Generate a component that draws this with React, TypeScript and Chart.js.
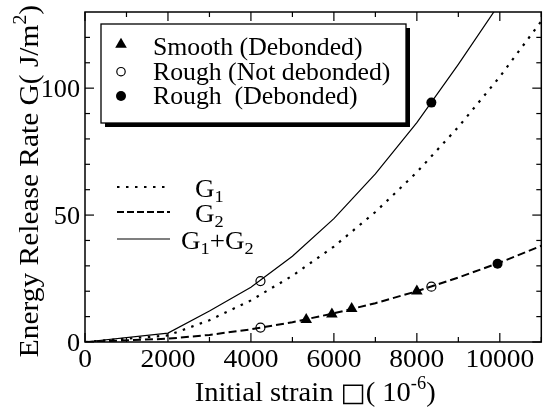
import React, { useEffect, useRef } from "react";
import { Chart, registerables } from "chart.js";

Chart.register(...registerables);

// Initial strain (×10⁻⁶) at which the energy release rates are evaluated
const strain = [0, 2000, 3000, 4000, 5000, 6000, 7000, 8000, 9000, 10000, 11000];
// Mode I component G1 (J/m²)
const g1 = [0, 2.6, 8.6, 16.4, 26.1, 37.6, 51.2, 66.9, 84.7, 104.5, 126.4];
// Mode II component G2 (J/m²)
const g2 = [0, 1.3, 2.8, 5.0, 7.8, 11.3, 15.3, 20.0, 25.4, 31.3, 37.9];
// Total G1+G2 (J/m²)
const gTotal = [0, 3.5, 12.2, 21.6, 33.8, 48.6, 66.2, 86.4, 109.4, 133.5, 161.0];

// Experimental points
const smoothStrain = [5333, 5952, 6429, 8000];
const smoothG = [8.8, 11.0, 13.1, 20.0];
const roughOpenStrain = [4230, 4230, 8350];
const roughOpenG = [24.0, 5.7, 21.8];
const roughFilledStrain = [8350, 9945];
const roughFilledG = [94.3, 30.8];

// Axis ticks
const xMajorTicks = [0, 2000, 4000, 6000, 8000, 10000];
const xMinorTicks = [1000, 3000, 5000, 7000, 9000, 11000];
const yMajorTicks = [0, 50, 100];
const yMinorTicks = [10, 20, 30, 40, 60, 70, 80, 90, 110, 120];

const X_MIN = 0;
const X_MAX = 11000;
const Y_MIN = 0;
const Y_MAX = 130;

const FONT = '"Liberation Serif", "Times New Roman", serif';

type Run = { t: string; size: number; dy?: number; family?: string };

function runWidth(ctx: CanvasRenderingContext2D, runs: Run[], sx: number) {
  let w = 0;
  for (const r of runs) {
    ctx.font = `${r.size}px ${r.family || FONT}`;
    w += ctx.measureText(r.t).width * sx;
  }
  return w;
}

// Draws a sequence of text runs (allowing sub/superscripts) starting at x, baseline y
function drawRuns(
  ctx: CanvasRenderingContext2D,
  runs: Run[],
  x: number,
  y: number,
  align: "left" | "center" | "right",
  sx = 1
) {
  const total = runWidth(ctx, runs, sx);
  let cx = align === "left" ? x : align === "center" ? x - total / 2 : x - total;
  ctx.save();
  ctx.fillStyle = "#000";
  ctx.textAlign = "left";
  ctx.textBaseline = "alphabetic";
  for (const r of runs) {
    ctx.font = `${r.size}px ${r.family || FONT}`;
    const w = ctx.measureText(r.t).width * sx;
    ctx.save();
    ctx.translate(cx, y + (r.dy || 0));
    ctx.scale(sx, 1);
    ctx.fillText(r.t, 0, 0);
    ctx.restore();
    cx += w;
  }
  ctx.restore();
}

function drawTriangle(ctx: CanvasRenderingContext2D, x: number, y: number, r: number) {
  const s = Math.sin((2 * Math.PI) / 3) * r;
  ctx.beginPath();
  ctx.moveTo(x, y - r);
  ctx.lineTo(x + s, y + r / 2);
  ctx.lineTo(x - s, y + r / 2);
  ctx.closePath();
  ctx.fill();
}

const decorations = {
  id: "decorations",
  afterDraw(chart: any) {
    const ctx: CanvasRenderingContext2D = chart.ctx;
    const { left, right, top, bottom } = chart.chartArea;
    const xs = chart.scales.x;
    const ys = chart.scales.y;

    ctx.save();
    ctx.strokeStyle = "#000";
    ctx.fillStyle = "#000";

    // Frame
    ctx.lineWidth = 1.5;
    ctx.strokeRect(left, top, right - left, bottom - top);

    // Inward ticks on all four sides
    ctx.lineWidth = 1.2;
    const tick = (x1: number, y1: number, x2: number, y2: number) => {
      ctx.beginPath();
      ctx.moveTo(x1, y1);
      ctx.lineTo(x2, y2);
      ctx.stroke();
    };
    for (const v of xMajorTicks) {
      const px = xs.getPixelForValue(v);
      tick(px, bottom, px, bottom - 9);
      tick(px, top, px, top + 9);
    }
    for (const v of xMinorTicks) {
      const px = xs.getPixelForValue(v);
      tick(px, bottom, px, bottom - 5);
      tick(px, top, px, top + 5);
    }
    for (const v of yMajorTicks) {
      const py = ys.getPixelForValue(v);
      tick(left, py, left + 9, py);
      tick(right, py, right - 9, py);
    }
    for (const v of yMinorTicks) {
      const py = ys.getPixelForValue(v);
      tick(left, py, left + 5, py);
      tick(right, py, right - 5, py);
    }

    // Tick labels
    for (const v of xMajorTicks) {
      drawRuns(ctx, [{ t: String(v), size: 25 }], xs.getPixelForValue(v), 367, "center", 1.1);
    }
    for (const v of yMajorTicks) {
      drawRuns(ctx, [{ t: String(v), size: 25 }], left - 5, ys.getPixelForValue(v) + 9, "right", 1.05);
    }

    // Axis titles
    drawRuns(
      ctx,
      [
        { t: "Initial strain ", size: 28 },
        { t: "\u25A1", size: 26, family: '"DejaVu Sans", sans-serif' },
        { t: "( 10", size: 28 },
        { t: "-6", size: 18, dy: -12 },
        { t: ")", size: 28 },
      ],
      (left + right) / 2 + 2,
      401,
      "center",
      1.02
    );
    ctx.save();
    ctx.translate(38, 181);
    ctx.rotate(-Math.PI / 2);
    drawRuns(
      ctx,
      [
        { t: "Energy Release Rate G( J/m", size: 28 },
        { t: "2", size: 19, dy: -12 },
        { t: ")", size: 28 },
      ],
      0,
      0,
      "center",
      1.05
    );
    ctx.restore();

    // Line-style key inside the plot
    const keyX1 = 117;
    const keyX2 = 170;
    const keyRows = [
      { y: 187, dash: [2.5, 6.5], width: 2.2, runs: [{ t: "G", size: 25 }, { t: "1", size: 17, dy: 5 }], lx: 195 },
      { y: 212, dash: [7, 3], width: 2, runs: [{ t: "G", size: 25 }, { t: "2", size: 17, dy: 5 }], lx: 195 },
      {
        y: 239,
        dash: [],
        width: 1.2,
        runs: [
          { t: "G", size: 25 },
          { t: "1", size: 17, dy: 5 },
          { t: "+G", size: 25 },
          { t: "2", size: 17, dy: 5 },
        ],
        lx: 181,
      },
    ];
    for (const row of keyRows) {
      ctx.save();
      ctx.setLineDash(row.dash);
      ctx.lineWidth = row.width;
      ctx.beginPath();
      ctx.moveTo(keyX1, row.y);
      ctx.lineTo(keyX2, row.y);
      ctx.stroke();
      ctx.restore();
      drawRuns(ctx, row.runs, row.lx, row.y + 10, "left", 1.08);
    }

    // Marker legend box with drop shadow
    const bx = 101;
    const by = 24;
    const bw = 305;
    const bh = 99;
    ctx.fillStyle = "#000";
    ctx.fillRect(bx + 4, by + 4, bw, bh);
    ctx.fillStyle = "#fff";
    ctx.fillRect(bx, by, bw, bh);
    ctx.lineWidth = 1.3;
    ctx.strokeStyle = "#000";
    ctx.strokeRect(bx, by, bw, bh);

    ctx.fillStyle = "#000";
    drawTriangle(ctx, 121, 44.4, 6.7);
    ctx.beginPath();
    ctx.arc(121, 71.7, 4.2, 0, Math.PI * 2);
    ctx.fillStyle = "#fff";
    ctx.fill();
    ctx.lineWidth = 1.2;
    ctx.stroke();
    ctx.beginPath();
    ctx.arc(121, 96, 5, 0, Math.PI * 2);
    ctx.fillStyle = "#000";
    ctx.fill();

    drawRuns(ctx, [{ t: "Smooth (Debonded)", size: 25 }], 153, 55, "left", 1.03);
    drawRuns(ctx, [{ t: "Rough (Not debonded)", size: 25 }], 153, 80, "left", 1.03);
    drawRuns(ctx, [{ t: "Rough  (Debonded)", size: 25 }], 153, 104, "left", 1.03);

    ctx.restore();
  },
};

export default function App() {
  const canvasRef = useRef<HTMLCanvasElement | null>(null);

  useEffect(() => {
    const canvas = canvasRef.current;
    if (!canvas) return;

    const toPoints = (xs: number[], ys: number[]) => xs.map((x, i) => ({ x, y: ys[i] }));

    const chart = new Chart(canvas, {
      type: "line",
      data: {
        datasets: [
          {
            label: "G1",
            data: toPoints(strain, g1),
            borderColor: "#000",
            borderWidth: 2.2,
            borderDash: [2.5, 6.5],
            pointRadius: 0,
            tension: 0,
            fill: false,
          },
          {
            label: "G2",
            data: toPoints(strain, g2),
            borderColor: "#000",
            borderWidth: 2,
            borderDash: [8, 4],
            pointRadius: 0,
            tension: 0,
            fill: false,
          },
          {
            label: "G1+G2",
            data: toPoints(strain, gTotal),
            borderColor: "#000",
            borderWidth: 1.2,
            pointRadius: 0,
            tension: 0,
            fill: false,
          },
          {
            label: "Smooth (Debonded)",
            data: toPoints(smoothStrain, smoothG),
            showLine: false,
            pointStyle: "triangle",
            pointRadius: 6.7,
            pointBackgroundColor: "#000",
            pointBorderColor: "#000",
            pointBorderWidth: 0,
          },
          {
            label: "Rough (Not debonded)",
            data: toPoints(roughOpenStrain, roughOpenG),
            showLine: false,
            pointStyle: "circle",
            pointRadius: 4.5,
            pointBackgroundColor: "#fff",
            pointBorderColor: "#000",
            pointBorderWidth: 1.2,
          },
          {
            label: "Rough (Debonded)",
            data: toPoints(roughFilledStrain, roughFilledG),
            showLine: false,
            pointStyle: "circle",
            pointRadius: 5,
            pointBackgroundColor: "#000",
            pointBorderColor: "#000",
            pointBorderWidth: 0,
          },
        ],
      },
      options: {
        responsive: false,
        animation: false,
        devicePixelRatio: 1,
        layout: { padding: { top: 12, right: 1, left: 0, bottom: 0 } },
        plugins: {
          legend: { display: false },
          tooltip: { enabled: false },
          title: { display: false },
        },
        scales: {
          x: {
            type: "linear",
            min: X_MIN,
            max: X_MAX,
            grid: { display: false },
            border: { display: false },
            ticks: { display: false },
            afterFit: (scale: any) => {
              scale.height = 70;
            },
          },
          y: {
            type: "linear",
            min: Y_MIN,
            max: Y_MAX,
            grid: { display: false },
            border: { display: false },
            ticks: { display: false },
            afterFit: (scale: any) => {
              scale.width = 85;
            },
          },
        },
      },
      plugins: [decorations],
    });

    return () => chart.destroy();
  }, []);

  return (
    <div style={{ position: "fixed", left: 0, top: 0, width: 548, height: 412, background: "#fff" }}>
      <canvas ref={canvasRef} width={548} height={412} />
    </div>
  );
}
